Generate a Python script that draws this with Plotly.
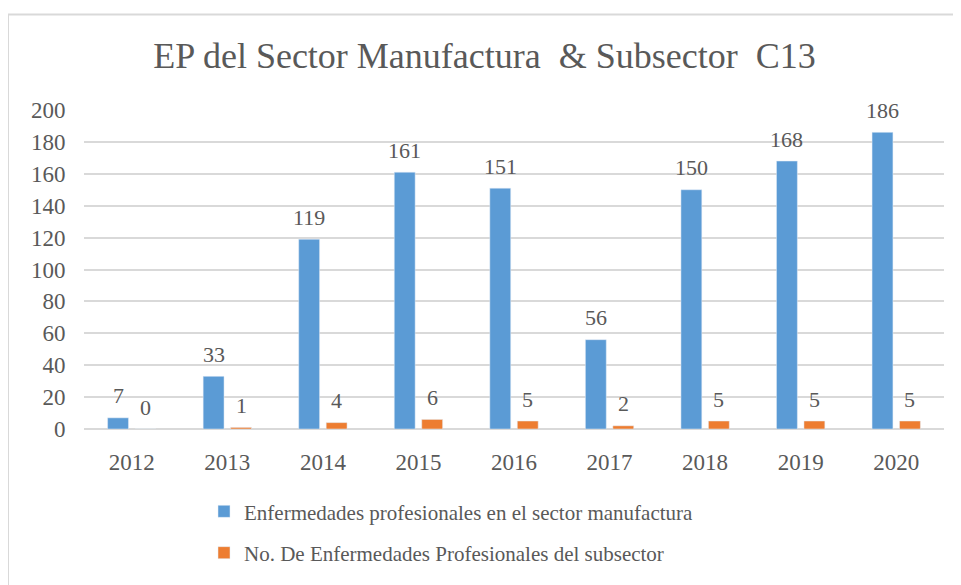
import plotly.graph_objects as go

# data
years = ["2012", "2013", "2014", "2015", "2016", "2017", "2018", "2019", "2020"]
sector_manufactura = [7, 33, 119, 161, 151, 56, 150, 168, 186]
subsector_c13 = [0, 1, 4, 6, 5, 2, 5, 5, 5]
y_ticks = [0, 20, 40, 60, 80, 100, 120, 140, 160, 180, 200]

serie_names = [
    "Enfermedades profesionales en el sector manufactura",
    "No. De Enfermedades Profesionales del subsector",
]

BLUE = "#5B9BD5"
ORANGE = "#ED7D31"
GREY = "#595959"
FONT = "Liberation Serif"

# the page body has an 8px margin, so the figure is a bit smaller than the window
W, H = 953, 577
M_L, M_R, M_T, M_B = 76, 17, 102, 148
BARGAP = 0.425
plot_w = W - M_L - M_R
slot = plot_w / len(years) * (1 - BARGAP) / 2

fig = go.Figure()
fig.add_trace(go.Bar(x=years, y=sector_manufactura, name=serie_names[0],
                     marker_color=BLUE, legendgroup="a"))
fig.add_trace(go.Bar(x=years, y=subsector_c13, name=serie_names[1],
                     marker_color=ORANGE, legendgroup="b"))

# value labels sit a bit above each bar
# (category axis: annotation x is the category's serial number)
annots = []
for vals, shift in ((sector_manufactura, -slot / 2), (subsector_c13, slot / 2)):
    for i, v in enumerate(vals):
        annots.append(dict(x=i, y=v, xref="x", yref="y", text=str(v),
                           showarrow=False, xshift=round(shift, 1), yshift=22,
                           yanchor="middle",
                           font=dict(family=FONT, size=22, color=GREY)))

# chart frame (only top/left visible in the picture)
frame_x0 = (0 - M_L) / plot_w
frame_y1 = (H - M_B - 4) / (H - M_T - M_B)

fig.update_layout(
    width=W, height=H,
    margin=dict(l=M_L, r=M_R, t=M_T, b=M_B),
    paper_bgcolor="white", plot_bgcolor="white",
    barmode="group", bargap=BARGAP, bargroupgap=0.24,
    font=dict(family=FONT, size=21, color=GREY),
    title=dict(text="EP del Sector Manufactura&nbsp; &amp; Subsector&nbsp; C13",
               x=0.5, xanchor="center", y=1 - 47 / H, yanchor="middle",
               font=dict(family=FONT, size=36, color=GREY)),
    xaxis=dict(type="category", showgrid=False, showline=False,
               ticks="outside", ticklen=12, tickcolor="rgba(0,0,0,0)",
               tickfont=dict(family=FONT, size=23, color=GREY)),
    yaxis=dict(range=[0, 200], tickvals=y_ticks, showgrid=True,
               gridcolor="#D9D9D9", gridwidth=1.5, zeroline=True,
               zerolinecolor="#D9D9D9", zerolinewidth=1.5,
               ticks="outside", ticklen=13, tickcolor="rgba(0,0,0,0)",
               tickfont=dict(family=FONT, size=23, color=GREY)),
    legend=dict(orientation="v", x=(204 - M_L - 8) / plot_w, xanchor="left",
                y=-0.195, yanchor="top", tracegroupgap=11,
                font=dict(family=FONT, size=21, color=GREY)),
    annotations=annots,
    shapes=[dict(type="rect", xref="paper", yref="paper",
                 x0=frame_x0, x1=1.2, y0=-1, y1=frame_y1,
                 line=dict(color="#D9D9D9", width=2))],
)

fig.write_html("out.html")
